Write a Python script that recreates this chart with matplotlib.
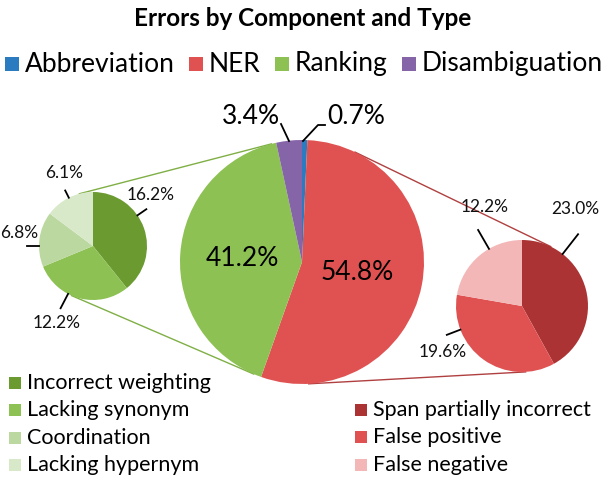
import numpy as np
import matplotlib
matplotlib.use('Agg')
import matplotlib.pyplot as plt
from matplotlib.patches import Rectangle

plt.rcParams['font.family'] = ['Lato', 'DejaVu Sans']

# ---------------- data ----------------
title = 'Errors by Component and Type'

components = ['Abbreviation', 'NER', 'Ranking', 'Disambiguation']
component_pct = [0.7, 54.8, 41.2, 3.4]
component_colors = ['#2B7BC0', '#E05252', '#8DC153', '#8565A8']

ranking_types = ['Incorrect weighting', 'Lacking synonym', 'Coordination', 'Lacking hypernym']
ranking_pct = [16.2, 12.2, 6.8, 6.1]
ranking_colors = ['#6B9A31', '#8DC153', '#BBD8A0', '#D8E9C9']

ner_types = ['Span partially incorrect', 'False positive', 'False negative']
ner_pct = [23.0, 19.6, 12.2]
ner_colors = ['#AC3333', '#E05252', '#F3B7B7']

W, H = 606, 480

fig = plt.figure(figsize=(W / 100, H / 100), dpi=100)
ax = fig.add_axes([0, 0, 1, 1])


def P(x, y):
    """pixel (top-left origin) -> data coords"""
    return (x, H - y)


# pie geometry (layout)
main_c, main_r = P(302, 262), 122
left_c, left_r = P(93, 246), 54
right_c, right_r = P(522, 306), 66


def ext_tangents(c1, r1, c2, r2):
    c1 = np.array(c1, float)
    c2 = np.array(c2, float)
    d = c2 - c1
    D = np.hypot(*d)
    phi = np.arctan2(d[1], d[0])
    a = np.arccos((r1 - r2) / D)
    out = []
    for th in (phi + a, phi - a):
        u = np.array([np.cos(th), np.sin(th)])
        out.append((c1 + r1 * u, c2 + r2 * u))
    return out


# connector lines
for p1, p2 in ext_tangents(main_c, main_r, left_c, left_r):
    ax.plot([p1[0], p2[0]], [p1[1], p2[1]], color='#7FAF45', lw=1.0, zorder=1)
for p1, p2 in ext_tangents(main_c, main_r, right_c, right_r):
    ax.plot([p1[0], p2[0]], [p1[1], p2[1]], color='#B04040', lw=1.0, zorder=1)

wedge_kw = dict(linewidth=0, edgecolor='none')
main_w, _ = ax.pie(component_pct, colors=component_colors, startangle=90,
                   counterclock=False, center=main_c, radius=main_r,
                   wedgeprops=wedge_kw, frame=True)
left_w, _ = ax.pie(ranking_pct, colors=ranking_colors, startangle=90,
                   counterclock=False, center=left_c, radius=left_r,
                   wedgeprops=wedge_kw, frame=True)
right_w, _ = ax.pie(ner_pct, colors=ner_colors, startangle=90,
                    counterclock=False, center=right_c, radius=right_r,
                    wedgeprops=wedge_kw, frame=True)

ax.set_xlim(0, W)
ax.set_ylim(0, H)
ax.set_aspect('equal')
ax.axis('off')


def pct(v):
    return f'{v:.1f}%'


def leader(center, r, lang, tang, tdist, text, fs, l1=1.2):
    a = np.deg2rad(lang)
    x0, y0 = center[0] + r * np.cos(a), center[1] + r * np.sin(a)
    x1, y1 = center[0] + r * l1 * np.cos(a), center[1] + r * l1 * np.sin(a)
    ax.plot([x0, x1], [y0, y1], color='black', lw=1.3, zorder=5)
    b = np.deg2rad(tang)
    ax.text(center[0] + r * tdist * np.cos(b), center[1] + r * tdist * np.sin(b),
            text, ha='center', va='center', fontsize=fs, color='#111111')


# main pie labels
ax.text(*P(242, 258), pct(component_pct[2]), ha='center', va='center', fontsize=19)
ax.text(*P(357, 273), pct(component_pct[1]), ha='center', va='center', fontsize=19)
# small slices of main pie with leader lines
ax.plot([289, 281], [H - 141, H - 124], color='black', lw=1.3)
ax.text(*P(251, 116), pct(component_pct[3]), ha='center', va='center', fontsize=19)
ax.plot([303, 318, 325], [H - 141, H - 125, H - 125], color='black', lw=1.3)
ax.text(*P(356, 116), pct(component_pct[0]), ha='center', va='center', fontsize=19)

# left pie labels
fs_small = 12.5
leader(left_c, left_r, 34.6, 41.3, 1.42, pct(ranking_pct[0]), fs_small)
leader(left_c, left_r, -117.5, -115, 1.58, pct(ranking_pct[1]), fs_small, l1=1.3)
leader(left_c, left_r, 180, 169.8, 1.38, pct(ranking_pct[2]), fs_small, l1=1.22)
leader(left_c, left_r, 116.6, 112, 1.45, pct(ranking_pct[3]), fs_small, l1=1.15)

# right pie labels
leader(right_c, right_r, 52, 61, 1.68, pct(ner_pct[0]), fs_small, l1=1.38)
leader(right_c, right_r, -159, -150, 1.38, pct(ner_pct[1]), fs_small, l1=1.22)
leader(right_c, right_r, 120, 111, 1.6, pct(ner_pct[2]), fs_small, l1=1.33)

# title
ax.text(W / 2, H - 19, title, ha='center', va='center', fontsize=17.5,
        fontweight='bold', color='black')

# top legend (manual, spread across the width)
renderer = fig.canvas.get_renderer()
leg_fs = 19
sq = 14
pad = 6
texts = []
widths = []
for name in components:
    t = ax.text(0, H - 64, name, ha='left', va='center', fontsize=leg_fs)
    texts.append(t)
    widths.append(t.get_window_extent(renderer=renderer).width)
x_start, x_end = 5, 603
total = sum(widths) + len(components) * (sq + pad)
gap = (x_end - x_start - total) / (len(components) - 1)
x = x_start
for t, w, col in zip(texts, widths, component_colors):
    ax.add_patch(Rectangle((x, H - 64 - sq / 2), sq, sq, color=col, lw=0))
    t.set_x(x + sq + pad)
    x += sq + pad + w + gap

# bottom legends
bl_fs = 15.5
bsq = 12
for i, (name, col) in enumerate(zip(ranking_types, ranking_colors)):
    y = H - (383 + 27.3 * i)
    ax.add_patch(Rectangle((9, y - bsq / 2), bsq, bsq, color=col, lw=0))
    ax.text(27, y, name, ha='left', va='center', fontsize=bl_fs)
for i, (name, col) in enumerate(zip(ner_types, ner_colors)):
    y = H - (410 + 27.3 * i)
    ax.add_patch(Rectangle((355, y - bsq / 2), bsq, bsq, color=col, lw=0))
    ax.text(373, y, name, ha='left', va='center', fontsize=bl_fs)

fig.savefig('out.png', dpi=100, facecolor='white')
